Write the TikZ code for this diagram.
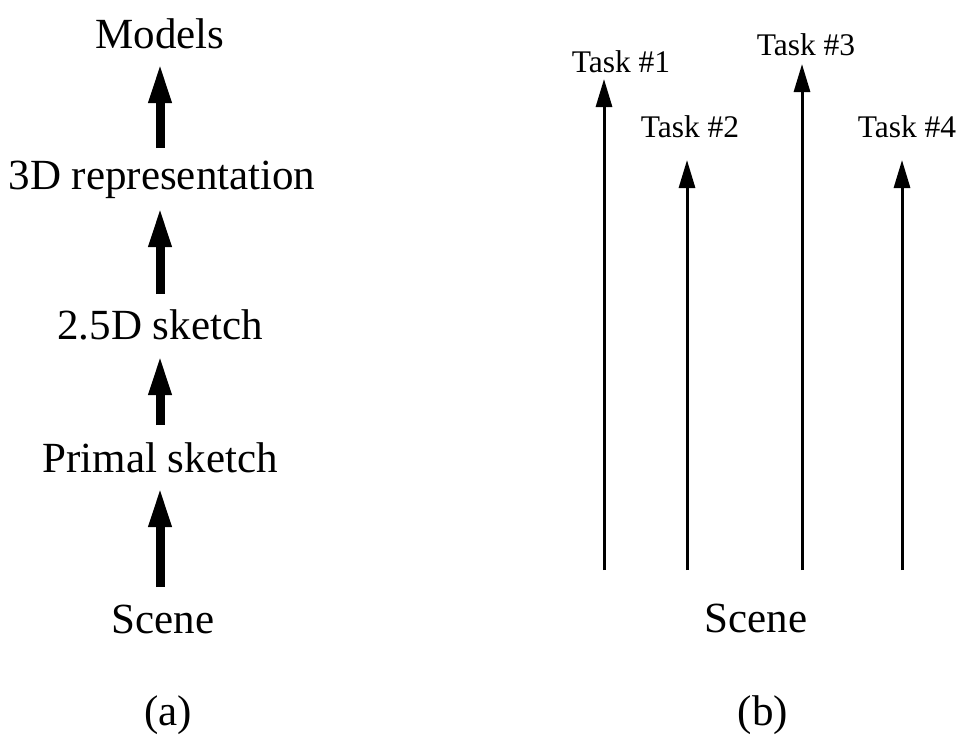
\documentclass[tikz,border=0pt]{standalone}
\usepackage{fontspec}
\setmainfont{Liberation Serif}
\usetikzlibrary{arrows.meta}

\begin{document}
\begin{tikzpicture}[x=1pt,y=-1pt,
  bigtext/.style={anchor=base,inner sep=0pt,font=\fontsize{43}{48}\selectfont},
  tasktext/.style={anchor=base,inner sep=0pt,font=\fontsize{31.5}{36}\selectfont},
  fatarrow/.style={line width=9pt,-{Triangle[length=40pt,width=21pt]}},
  thinarrow/.style={line width=3pt,-{Triangle[length=28pt,width=16pt]}}]
\useasboundingbox (0,0) rectangle (960,740);

% (a) the hierarchy of representations
\node[bigtext] (models) at (160,48) {Models};
\node[bigtext] (rep3d)  at (162,189) {3D representation};
\node[bigtext] (sk25)   at (160,339) {2.5D sketch};
\node[bigtext] (primal) at (160,472) {Primal sketch};
\node[bigtext] (sceneA) at (163,633) {Scene};
\node[bigtext] (capA)   at (168,725) {(a)};

\coordinate (a1s) at (160,148); \coordinate (a1e) at (160,63);
\coordinate (a2s) at (160,294); \coordinate (a2e) at (160,207);
\coordinate (a3s) at (160,425); \coordinate (a3e) at (160,355);
\coordinate (a4s) at (160,587); \coordinate (a4e) at (160,487);
\draw[fatarrow] (a1s) -- (a1e);
\draw[fatarrow] (a2s) -- (a2e);
\draw[fatarrow] (a3s) -- (a3e);
\draw[fatarrow] (a4s) -- (a4e);

% (b) independent task-specific channels
\node[tasktext] (t1) at (621,72)  {Task \#1};
\node[tasktext] (t2) at (690,137) {Task \#2};
\node[tasktext] (t3) at (806,55)  {Task \#3};
\node[tasktext] (t4) at (907,137) {Task \#4};
\node[bigtext] (sceneB) at (756,632) {Scene};
\node[bigtext] (capB)   at (763,725) {(b)};

\coordinate (b1s) at (604,570); \coordinate (b1e) at (604,79);
\coordinate (b2s) at (687,570); \coordinate (b2e) at (687,160);
\coordinate (b3s) at (802,570); \coordinate (b3e) at (802,64);
\coordinate (b4s) at (902,570); \coordinate (b4e) at (902,160);
\draw[thinarrow] (b1s) -- (b1e);
\draw[thinarrow] (b2s) -- (b2e);
\draw[thinarrow] (b3s) -- (b3e);
\draw[thinarrow] (b4s) -- (b4e);
\end{tikzpicture}
\end{document}
